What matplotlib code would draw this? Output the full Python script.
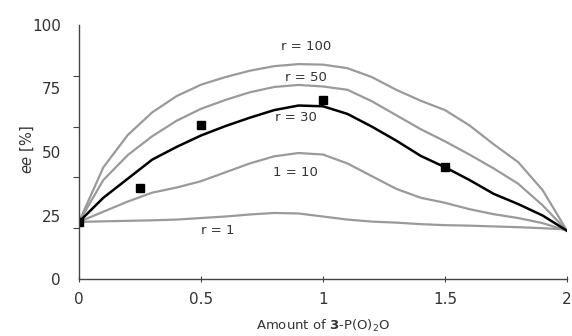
import matplotlib
matplotlib.use("Agg")
import matplotlib.pyplot as plt
from matplotlib.ticker import FixedLocator

# ---- data ----
x_grid = [0.0, 0.1, 0.2, 0.3, 0.4, 0.5, 0.6, 0.7, 0.8, 0.9, 1.0,
          1.1, 1.2, 1.3, 1.4, 1.5, 1.6, 1.7, 1.8, 1.9, 2.0]
r100 = [22.5, 44.0, 56.7, 65.6, 72.0, 76.5, 79.5, 82.0, 83.8, 84.6, 84.4,
        83.0, 79.5, 74.5, 70.2, 66.5, 60.5, 53.0, 46.0, 35.0, 19.0]
r50 = [22.5, 39.0, 48.8, 56.2, 62.3, 67.0, 70.5, 73.5, 75.6, 76.4, 75.8,
       74.5, 70.0, 64.5, 59.0, 54.2, 49.0, 43.5, 37.5, 29.0, 19.0]
r30 = [22.5, 32.0, 39.5, 47.0, 52.0, 56.5, 60.2, 63.5, 66.5, 68.3, 68.0,
       65.0, 60.0, 54.5, 48.5, 44.0, 39.0, 33.5, 29.5, 25.0, 19.0]
r10 = [22.5, 26.5, 30.5, 34.0, 36.0, 38.5, 42.0, 45.5, 48.3, 49.6, 49.0,
       45.5, 40.5, 35.5, 32.0, 30.0, 27.5, 25.5, 24.0, 22.0, 19.0]
r1 = [22.5, 22.7, 22.9, 23.1, 23.4, 24.0, 24.6, 25.4, 26.0, 25.8, 24.6,
      23.4, 22.6, 22.2, 21.6, 21.2, 21.0, 20.7, 20.4, 20.0, 19.5]

exp_x = [0.0, 0.25, 0.5, 1.0, 1.5]
exp_y = [22.5, 35.8, 60.5, 70.5, 44.1]

curve_labels = ["r = 100", "r = 50", "r = 30", "1 = 10", "r = 1"]
label_pos = [(0.93, 91.5), (0.93, 79.5), (0.89, 63.5), (0.885, 42.0), (0.57, 19.0)]

x_ticks = [0, 0.5, 1, 1.5, 2]
x_ticklabels = ["0", "0.5", "1", "1.5", "2"]
y_label_ticks = [0, 25, 50, 75, 100]
y_mark_ticks = [0, 20, 40, 60, 80, 100]

# ---- figure ----
fig = plt.figure(figsize=(5.72, 3.36), dpi=100)
ax = fig.add_axes([79/572, (336-279)/336, (567-79)/572, (279-25)/336])

gray = "#9a9a9a"
txt = "#333333"
for ys in (r100, r50, r10, r1):
    ax.plot(x_grid, ys, color=gray, lw=1.6, solid_joinstyle="round")
ax.plot(x_grid, r30, color="black", lw=1.8, solid_joinstyle="round")
ax.plot(exp_x, exp_y, linestyle="none", marker="s", color="black", markersize=5.5)

for lab, (lx, ly) in zip(curve_labels, label_pos):
    ax.text(lx, ly, lab, ha="center", va="center", fontsize=9.5, color=txt)

ax.set_xlim(0, 2)
ax.set_ylim(0, 100)
for s in ("top", "right"):
    ax.spines[s].set_visible(False)
for s in ("left", "bottom"):
    ax.spines[s].set_color("#444444")
    ax.spines[s].set_linewidth(1.0)

ax.set_xticks(x_ticks)
ax.set_xticklabels(x_ticklabels)
ax.tick_params(axis="x", direction="inout", length=5, width=0.8, colors="#444444",
               labelcolor=txt, labelsize=11, pad=7)

ax.yaxis.set_major_locator(FixedLocator(y_label_ticks))
ax.set_yticklabels([str(v) for v in y_label_ticks])
ax.yaxis.set_minor_locator(FixedLocator(y_mark_ticks))
ax.tick_params(axis="y", which="major", length=0, labelcolor=txt, labelsize=11, pad=13)
ax.tick_params(axis="y", which="minor", direction="out", length=4, width=0.8, colors="#444444")

ax.set_xlabel(r"Amount of $\mathbf{3}$-P(O)$_2$O", fontsize=9.5, color=txt, labelpad=8)
fig.text(27/572, 1 - 150/336, r"$ee$ [%]", rotation=90, ha="center", va="center",
         fontsize=10.5, color=txt)

fig.savefig("out.png", dpi=100)
